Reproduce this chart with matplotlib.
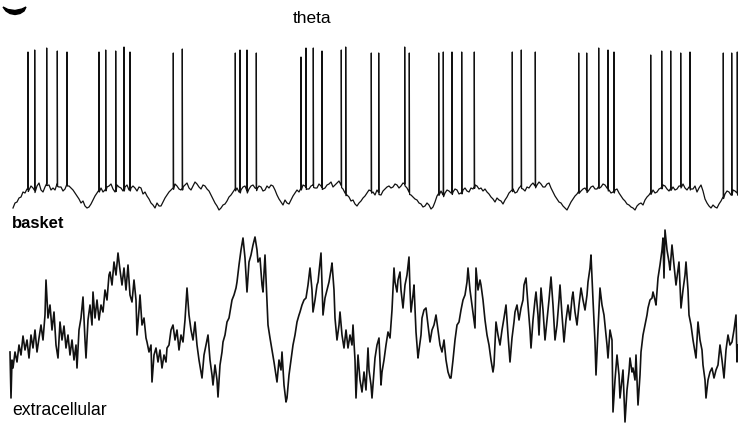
import numpy as np
import matplotlib.pyplot as plt
from matplotlib.patches import Polygon

# basket cell membrane trace (sub-threshold part), sampled every 2 units
basket_t = np.arange(13, 738, 2)
basket_v = [
    208, 203, 202, 198, 197, 192, 193, 189, 190, 186, 188, 191, 186, 183, 190, 192, 187, 183, 185, 190,
    188, 190, 184, 187, 187, 191, 189, 184, 186, 188, 190, 193, 196, 199, 203, 201, 206, 208, 207, 204,
    200, 196, 193, 190, 188, 192, 190, 187, 186, 184, 189, 192, 185, 187, 188, 191, 187, 185, 190, 188,
    186, 188, 191, 187, 188, 194, 192, 196, 199, 203, 205, 208, 203, 206, 206, 202, 198, 195, 192, 190,
    188, 184, 186, 189, 190, 187, 185, 183, 188, 190, 186, 182, 184, 187, 189, 185, 186, 189, 191, 195,
    199, 203, 206, 210, 208, 205, 204, 201, 197, 195, 192, 189, 188, 192, 190, 187, 186, 191, 189, 186,
    185, 188, 189, 186, 187, 191, 190, 186, 188, 185, 186, 190, 195, 199, 202, 205, 200, 203, 204, 200,
    196, 193, 190, 192, 188, 185, 186, 189, 189, 186, 185, 188, 188, 184, 186, 189, 188, 185, 184, 182,
    187, 185, 183, 181, 185, 189, 193, 195, 197, 201, 200, 204, 206, 203, 201, 198, 196, 193, 190, 191,
    192, 195, 190, 193, 195, 191, 189, 187, 186, 188, 187, 184, 185, 188, 186, 183, 184, 188, 192, 195,
    197, 199, 200, 203, 204, 207, 206, 203, 205, 209, 207, 202, 196, 193, 191, 195, 193, 190, 191, 193,
    192, 189, 190, 194, 193, 190, 188, 191, 192, 188, 189, 185, 186, 189, 188, 191, 189, 192, 194, 197,
    199, 202, 198, 200, 201, 204, 200, 197, 193, 191, 189, 193, 192, 188, 186, 189, 191, 187, 188, 185,
    183, 186, 185, 182, 184, 187, 187, 184, 183, 188, 192, 196, 199, 202, 203, 206, 208, 210, 206, 202,
    199, 196, 194, 191, 191, 189, 188, 191, 190, 187, 186, 189, 189, 186, 187, 184, 185, 188, 190, 193,
    192, 190, 189, 193, 196, 199, 201, 204, 205, 207, 208, 210, 206, 204, 203, 205, 200, 197, 195, 192,
    190, 193, 192, 189, 188, 185, 186, 189, 191, 188, 187, 190, 189, 186, 186, 184, 188, 190, 187, 189,
    189, 186, 192, 188, 185, 191, 199, 203, 206, 208, 205, 207, 208, 204, 201, 197, 194, 191, 192, 195,
    190, 191, 193,
]

# action potentials: times and peak levels
spike_t = [28, 34.7, 46.7, 57.3, 67, 99, 105.7, 115.7, 124, 130,
           173.3, 182.3, 235.3, 240, 247, 256.3, 301, 306, 313.3, 322,
           341.3, 345.7, 371.3, 378.7, 404.7, 409.3, 438.7, 443.3, 452, 461.7,
           474.3, 512.3, 521.3, 535.3, 578.7, 586.7, 598.7, 608, 614, 650.7,
           661.7, 670.7, 680.7, 690, 723.3, 731.7, 737.3]
spike_peak = [52, 50, 48, 51, 52, 52, 50, 51, 47, 52,
              53, 49, 53, 50, 50, 53, 57, 48, 48, 51,
              50, 47, 53, 53, 47, 53, 53, 52, 52, 52,
              52, 52, 50, 52, 53, 53, 48, 50, 52, 55,
              51, 51, 53, 52, 53, 53, 52]

# extracellular field potential
ext_t = [10, 11, 12, 13, 15, 17, 19, 21, 23, 25, 27, 29, 31, 33, 35, 37, 39, 41, 43, 45,
         46, 48, 50, 52, 54, 56, 58, 60, 62, 64, 66, 68, 70, 72, 74, 76, 77, 79, 81, 83,
         85, 86, 88, 90, 92, 93, 95, 97, 99, 101, 103, 105, 107, 109, 110, 112, 114, 116, 118, 120,
         122, 124, 126, 128, 130, 132, 134, 136, 137, 139, 140, 142, 144, 146, 147, 149, 151, 152, 154, 156,
         158, 160, 162, 164, 166, 167, 169, 171, 173, 175, 177, 179, 181, 183, 185, 187, 189, 191, 193, 195,
         197, 199, 201, 202, 204, 206, 208, 210, 212, 213, 215, 217, 218, 220, 222, 223, 225, 227, 229, 230,
         232, 234, 236, 237, 239, 241, 243, 245, 247, 249, 251, 253, 255, 257, 258, 260, 262, 263, 265, 267,
         268, 270, 272, 274, 276, 277, 279, 281, 282, 284, 286, 287, 289, 291, 293, 295, 297, 299, 300, 302,
         304, 306, 308, 310, 312, 313, 315, 317, 318, 320, 321, 323, 325, 327, 329, 331, 332, 334, 335, 337,
         339, 340, 342, 344, 346, 348, 350, 352, 353, 355, 356, 358, 360, 362, 364, 366, 368, 369, 371, 372,
         374, 375, 377, 379, 381, 382, 384, 386, 388, 390, 392, 394, 395, 397, 398, 400, 401, 403, 405, 407,
         409, 410, 411, 413, 414, 416, 418, 419, 421, 422, 424, 426, 428, 430, 432, 434, 436, 438, 440, 442,
         444, 446, 448, 450, 451, 453, 455, 457, 459, 461, 463, 465, 467, 468, 470, 472, 474, 475, 476, 478,
         480, 481, 483, 485, 487, 489, 491, 493, 494, 496, 498, 500, 502, 504, 506, 508, 510, 512, 514, 515,
         517, 519, 521, 523, 524, 526, 528, 530, 531, 533, 535, 536, 538, 539, 541, 543, 545, 547, 549, 551,
         553, 555, 557, 559, 560, 562, 564, 566, 568, 570, 572, 573, 575, 577, 579, 581, 583, 585, 587, 588,
         590, 591, 593, 595, 596, 598, 600, 602, 604, 605, 607, 608, 610, 612, 613, 615, 617, 619, 620, 622,
         623, 625, 627, 629, 630, 632, 633, 635, 636, 638, 640, 641, 643, 645, 647, 648, 650, 652, 653, 655,
         656, 658, 660, 662, 663, 664, 665, 667, 669, 670, 672, 674, 676, 678, 679, 681, 683, 685, 686, 688,
         689, 691, 693, 695, 696, 698, 700, 702, 703, 705, 706, 708, 710, 712, 714, 716, 718, 720, 722, 724,
         726, 728, 730, 732, 734, 736, 737, 738]
ext_v = [352, 398, 360, 368, 352, 362, 345, 355, 336, 350, 340, 358, 335, 348, 330, 352, 338, 325, 340, 315,
         280, 318, 305, 330, 312, 345, 358, 322, 340, 326, 348, 335, 355, 340, 360, 345, 368, 330, 318, 297,
         340, 358, 320, 305, 325, 292, 318, 300, 320, 305, 312, 290, 300, 275, 272, 285, 262, 275, 253, 270,
         285, 268, 290, 265, 295, 302, 280, 300, 335, 310, 295, 325, 318, 338, 342, 352, 345, 382, 355, 348,
         362, 350, 368, 355, 362, 348, 345, 330, 325, 340, 330, 350, 335, 342, 320, 288, 315, 330, 340, 322,
         345, 360, 372, 378, 355, 345, 335, 360, 375, 385, 365, 380, 397, 365, 352, 342, 335, 322, 318, 312,
         300, 295, 288, 282, 265, 250, 238, 258, 292, 262, 255, 245, 237, 250, 262, 258, 285, 292, 255, 300,
         325, 338, 350, 362, 375, 382, 360, 370, 352, 385, 402, 398, 375, 360, 345, 335, 322, 315, 312, 305,
         300, 298, 285, 268, 290, 312, 300, 285, 282, 262, 253, 315, 298, 290, 282, 270, 263, 290, 318, 340,
         325, 312, 335, 348, 330, 348, 335, 345, 325, 360, 398, 355, 380, 392, 372, 390, 348, 370, 385, 398,
         372, 358, 345, 338, 385, 372, 360, 345, 332, 338, 310, 268, 282, 292, 280, 272, 290, 308, 285, 275,
         257, 290, 312, 295, 285, 332, 358, 350, 335, 318, 310, 308, 325, 342, 330, 325, 315, 330, 345, 352,
         340, 360, 372, 378, 378, 360, 340, 325, 322, 310, 300, 295, 282, 268, 290, 305, 320, 328, 268, 290,
         280, 285, 300, 320, 335, 345, 360, 372, 365, 322, 335, 345, 330, 318, 305, 335, 362, 338, 322, 312,
         305, 320, 308, 300, 285, 278, 305, 330, 348, 320, 300, 292, 315, 335, 288, 310, 340, 320, 300, 277,
         305, 340, 325, 300, 285, 315, 342, 320, 305, 320, 298, 292, 312, 325, 305, 288, 300, 310, 295, 282,
         268, 255, 300, 342, 375, 330, 288, 305, 315, 325, 345, 358, 330, 340, 412, 380, 355, 375, 398, 380,
         370, 422, 390, 372, 358, 372, 368, 380, 355, 405, 375, 352, 335, 325, 315, 308, 300, 298, 292, 300,
         305, 278, 265, 250, 238, 278, 230, 250, 262, 270, 245, 265, 285, 270, 262, 308, 290, 275, 262, 290,
         315, 325, 340, 352, 358, 322, 340, 350, 365, 380, 398, 380, 372, 368, 378, 370, 365, 345, 360, 378,
         350, 335, 345, 342, 330, 315, 362, 345]

# merge spikes into the membrane trace: fast rise, fast return
spike_t = np.array(spike_t)
base_at_spike = np.interp(spike_t, basket_t, basket_v)
t_all = np.concatenate([basket_t, spike_t - 0.05, spike_t, spike_t + 0.3])
v_all = np.concatenate([basket_v, base_at_spike, spike_peak, base_at_spike + 2])
order = np.argsort(t_all, kind='stable')
t_all, v_all = t_all[order], v_all[order]

fig = plt.figure(figsize=(7.38, 4.23), dpi=100)
ax = fig.add_axes([0, 0, 1, 1])
ax.set_xlim(0, 738)
ax.set_ylim(423, 0)
ax.axis('off')

ax.plot(t_all, v_all, color='#111111', lw=0.9)
ax.plot(ext_t, ext_v, color='#111111', lw=1.2)

# bit of panel letter at the top-left
ax.add_patch(Polygon([(3, 7), (6, 11), (10, 13.5), (15, 14.5), (20, 13.5), (24, 11), (26, 7),
                      (22, 9), (15, 10.5), (8, 9.5)], closed=True, color='black'))

ax.text(293, 23, 'theta', fontsize=12.5, family='Liberation Sans', va='baseline')
ax.text(12, 228, 'basket', fontsize=12, family='Liberation Sans', weight='bold', va='baseline')
ax.text(12, 415, 'extracellular', fontsize=12.7, family='Liberation Sans', va='baseline')

fig.savefig('out.png', dpi=100)
